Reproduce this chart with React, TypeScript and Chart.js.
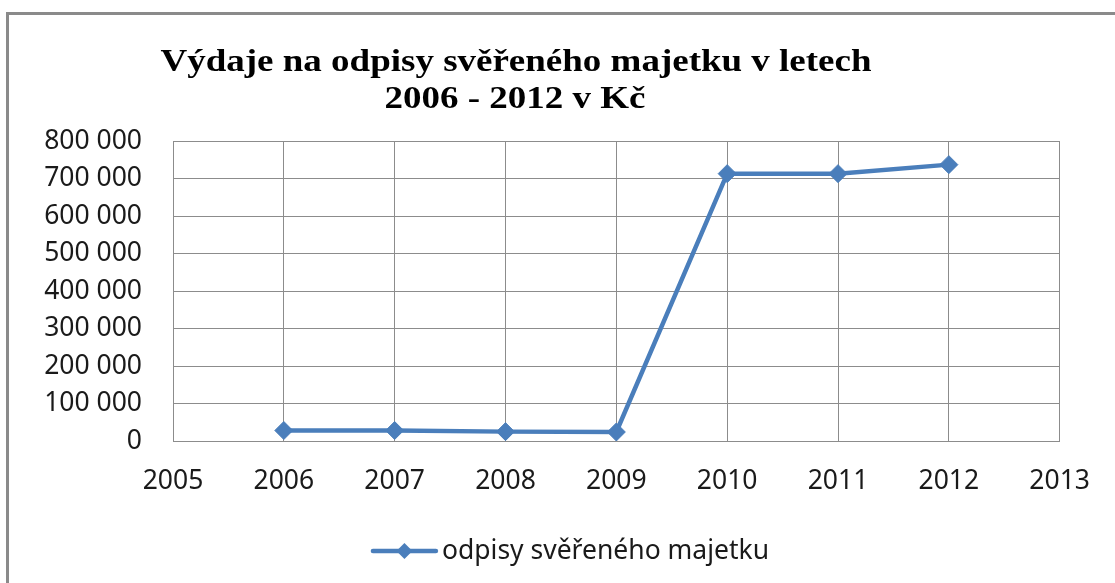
import React, { useEffect, useRef } from "react";
import { Chart, registerables } from "chart.js";

Chart.register(...registerables);

const years = [2006, 2007, 2008, 2009, 2010, 2011, 2012];
const values = [28000, 28000, 25000, 24000, 713000, 713000, 737000];
const seriesName = "odpisy svěřeného majetku";
const titleLines = ["Výdaje na odpisy svěřeného majetku v letech", "2006 - 2012 v Kč"];
const xMin = 2005;
const xMax = 2013;
const yMax = 800000;
const yStep = 100000;

const LINE_COLOR = "#4a7ebb";
const GRID_COLOR = "#8c8c8c";
const TICK_FONT = "'Noto Sans', sans-serif";
const TICK_SIZE = 26.5;

const fmt = (v: number) => String(v).replace(/\B(?=(\d{3})+(?!\d))/g, " ");

const decorPlugin = {
  id: "decor",
  beforeDraw(chart: any) {
    const ctx = chart.ctx;
    ctx.save();
    ctx.fillStyle = "#ffffff";
    ctx.fillRect(0, 0, chart.width, chart.height);
    ctx.strokeStyle = "#8a8a8a";
    ctx.lineWidth = 3;
    ctx.strokeRect(7.5, 13.5, chart.width + 20, chart.height + 20);
    ctx.restore();
  },
  afterDraw(chart: any) {
    const ctx = chart.ctx;
    ctx.save();
    // title
    ctx.fillStyle = "#000000";
    ctx.font = "bold 31px 'Liberation Serif', serif";
    ctx.textBaseline = "alphabetic";
    ctx.textAlign = "left";
    const w1 = ctx.measureText(titleLines[0]).width;
    const sx = 711 / w1;
    const baselines = [71, 108];
    const centers = [516, 515];
    titleLines.forEach((t, i) => {
      const w = ctx.measureText(t).width * sx;
      ctx.save();
      ctx.translate(centers[i] - w / 2, baselines[i]);
      ctx.scale(sx, 1);
      ctx.fillText(t, 0, 0);
      ctx.restore();
    });
    // legend
    ctx.font = `${TICK_SIZE}px ${TICK_FONT}`;
    ctx.fillStyle = "#1a1a1a";
    const tw = ctx.measureText(seriesName).width;
    const lineLen = 63;
    const gap = 6;
    const total = lineLen + gap + tw;
    const cx = 571;
    const ly = 551;
    const x0 = cx - total / 2;
    ctx.strokeStyle = LINE_COLOR;
    ctx.lineWidth = 4.5;
    ctx.lineCap = "round";
    ctx.beginPath();
    ctx.moveTo(x0, ly);
    ctx.lineTo(x0 + lineLen, ly);
    ctx.stroke();
    const dx = x0 + lineLen / 2;
    const r = 8;
    ctx.fillStyle = LINE_COLOR;
    ctx.beginPath();
    ctx.moveTo(dx, ly - r);
    ctx.lineTo(dx + r, ly);
    ctx.lineTo(dx, ly + r);
    ctx.lineTo(dx - r, ly);
    ctx.closePath();
    ctx.fill();
    ctx.fillStyle = "#1a1a1a";
    ctx.textBaseline = "middle";
    ctx.fillText(seriesName, x0 + lineLen + gap, ly);
    ctx.restore();
  },
};

export default function App() {
  const ref = useRef<HTMLCanvasElement>(null);
  useEffect(() => {
    if (!ref.current) return;
    const chart = new Chart(ref.current, {
      type: "line",
      data: {
        datasets: [
          {
            label: seriesName,
            data: years.map((y, i) => ({ x: y, y: values[i] })),
            borderColor: LINE_COLOR,
            backgroundColor: LINE_COLOR,
            borderWidth: 4.5,
            pointStyle: "rectRot",
            pointRadius: 9,
            pointBorderWidth: 1,
            pointBorderColor: LINE_COLOR,
            pointBackgroundColor: LINE_COLOR,
            tension: 0,
          },
        ],
      },
      options: {
        animation: false,
        responsive: false,
        devicePixelRatio: 1,
        layout: { padding: { top: 141, left: 0, right: 53, bottom: 0 } },
        plugins: {
          legend: { display: false },
          title: { display: false },
          tooltip: { enabled: false },
        },
        scales: {
          x: {
            type: "linear",
            min: xMin,
            max: xMax,
            afterFit: (s: any) => {
              s.height = 142;
            },
            ticks: {
              stepSize: 1,
              padding: 25,
              color: "#1a1a1a",
              font: { family: TICK_FONT, size: TICK_SIZE },
              callback: (v: any) => String(v),
              maxRotation: 0,
              autoSkip: false,
            },
            grid: { color: GRID_COLOR, lineWidth: 1, drawTicks: false },
            border: { color: GRID_COLOR, width: 1 },
          },
          y: {
            min: 0,
            max: yMax,
            afterFit: (s: any) => {
              s.width = 173;
            },
            ticks: {
              stepSize: yStep,
              padding: 31,
              color: "#1a1a1a",
              font: { family: TICK_FONT, size: TICK_SIZE },
              callback: (v: any) => fmt(Number(v)),
            },
            grid: { color: GRID_COLOR, lineWidth: 1, drawTicks: false },
            border: { color: GRID_COLOR, width: 1 },
          },
        },
      },
      plugins: [decorPlugin],
    });
    return () => chart.destroy();
  }, []);
  return (
    <canvas
      ref={ref}
      width={1115}
      height={583}
      style={{ position: "fixed", left: 0, top: 0, width: 1115, height: 583 }}
    />
  );
}
